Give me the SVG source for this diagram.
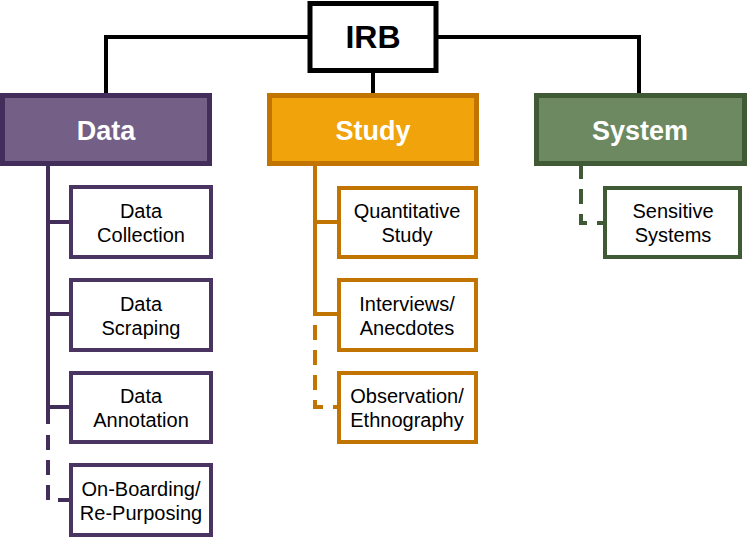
<svg xmlns="http://www.w3.org/2000/svg" width="747" height="541" viewBox="0 0 747 541">
<style>
.t{font-family:"Liberation Sans",Arial,sans-serif;text-anchor:middle}
.hd{font-size:27px;font-weight:bold;fill:#fff}
.ch{font-size:20px;fill:#000}
.irb{font-size:32px;font-weight:bold;fill:#000}
.box{fill:#fff;stroke-width:4}
.pp{stroke:#4a3461}
.or{stroke:#c27400}
.gr{stroke:#3f5a35}
.ln{fill:none;stroke-width:4}
.dash{stroke-dasharray:15 10}
</style>
<g id="connectors">
<path class="ln" stroke="#000" d="M106,95 V37 H639 V95 M373,72 V95"/>
<path class="ln" stroke="#432d5a" d="M48,166 V424 M48,222 H70 M48,314 H70 M48,407 H70"/>
<path class="ln dash" stroke="#432d5a" d="M48,435 V500 H70"/>
<path class="ln" stroke="#c27400" d="M315,166 V314 H338 M315,222 H338"/>
<path class="ln dash" stroke="#c27400" d="M315,325 V407 H338"/>
<path class="ln dash" stroke="#3f5a35" stroke-dasharray="8 12 15 12" d="M581,164 V223 H603"/>
</g>
<g id="irb">
<rect x="310" y="3.5" width="126" height="67" fill="#fff" stroke="#000" stroke-width="5"/>
<text class="t irb" x="373" y="48">IRB</text>
</g>
<g id="data">
<rect x="2.5" y="95.5" width="207" height="68" fill="#745f87" stroke="#432d5a" stroke-width="5"/>
<text class="t hd" x="106" y="140">Data</text>
</g>
<g id="study">
<rect x="269.5" y="95.5" width="207" height="68" fill="#f0a30b" stroke="#c27400" stroke-width="5"/>
<text class="t hd" x="373" y="140">Study</text>
</g>
<g id="system">
<rect x="536.5" y="95.5" width="208" height="68" fill="#6c8961" stroke="#3f5a35" stroke-width="5"/>
<text class="t hd" x="640" y="140">System</text>
</g>
<g id="data-collection">
<rect class="box pp" x="71" y="187" width="140" height="70"/>
<text class="t ch" x="141" y="218">Data</text>
<text class="t ch" x="141" y="242">Collection</text>
</g>
<g id="data-scraping">
<rect class="box pp" x="71" y="280" width="140" height="70"/>
<text class="t ch" x="141" y="311">Data</text>
<text class="t ch" x="141" y="335">Scraping</text>
</g>
<g id="data-annotation">
<rect class="box pp" x="71" y="373" width="140" height="69"/>
<text class="t ch" x="141" y="403">Data</text>
<text class="t ch" x="141" y="427">Annotation</text>
</g>
<g id="onboarding">
<rect class="box pp" x="71" y="465" width="140" height="70"/>
<text class="t ch" x="141" y="496">On-Boarding/</text>
<text class="t ch" x="141" y="520">Re-Purposing</text>
</g>
<g id="quantitative">
<rect class="box or" x="339" y="188" width="137" height="69"/>
<text class="t ch" x="407" y="218">Quantitative</text>
<text class="t ch" x="407" y="242">Study</text>
</g>
<g id="interviews">
<rect class="box or" x="339" y="280" width="137" height="70"/>
<text class="t ch" x="407" y="311">Interviews/</text>
<text class="t ch" x="407" y="335">Anecdotes</text>
</g>
<g id="observation">
<rect class="box or" x="339" y="373" width="137" height="69"/>
<text class="t ch" x="407" y="403">Observation/</text>
<text class="t ch" x="407" y="427">Ethnography</text>
</g>
<g id="sensitive">
<rect class="box gr" x="605" y="188" width="135" height="69"/>
<text class="t ch" x="673" y="218">Sensitive</text>
<text class="t ch" x="673" y="242">Systems</text>
</g>
</svg>
